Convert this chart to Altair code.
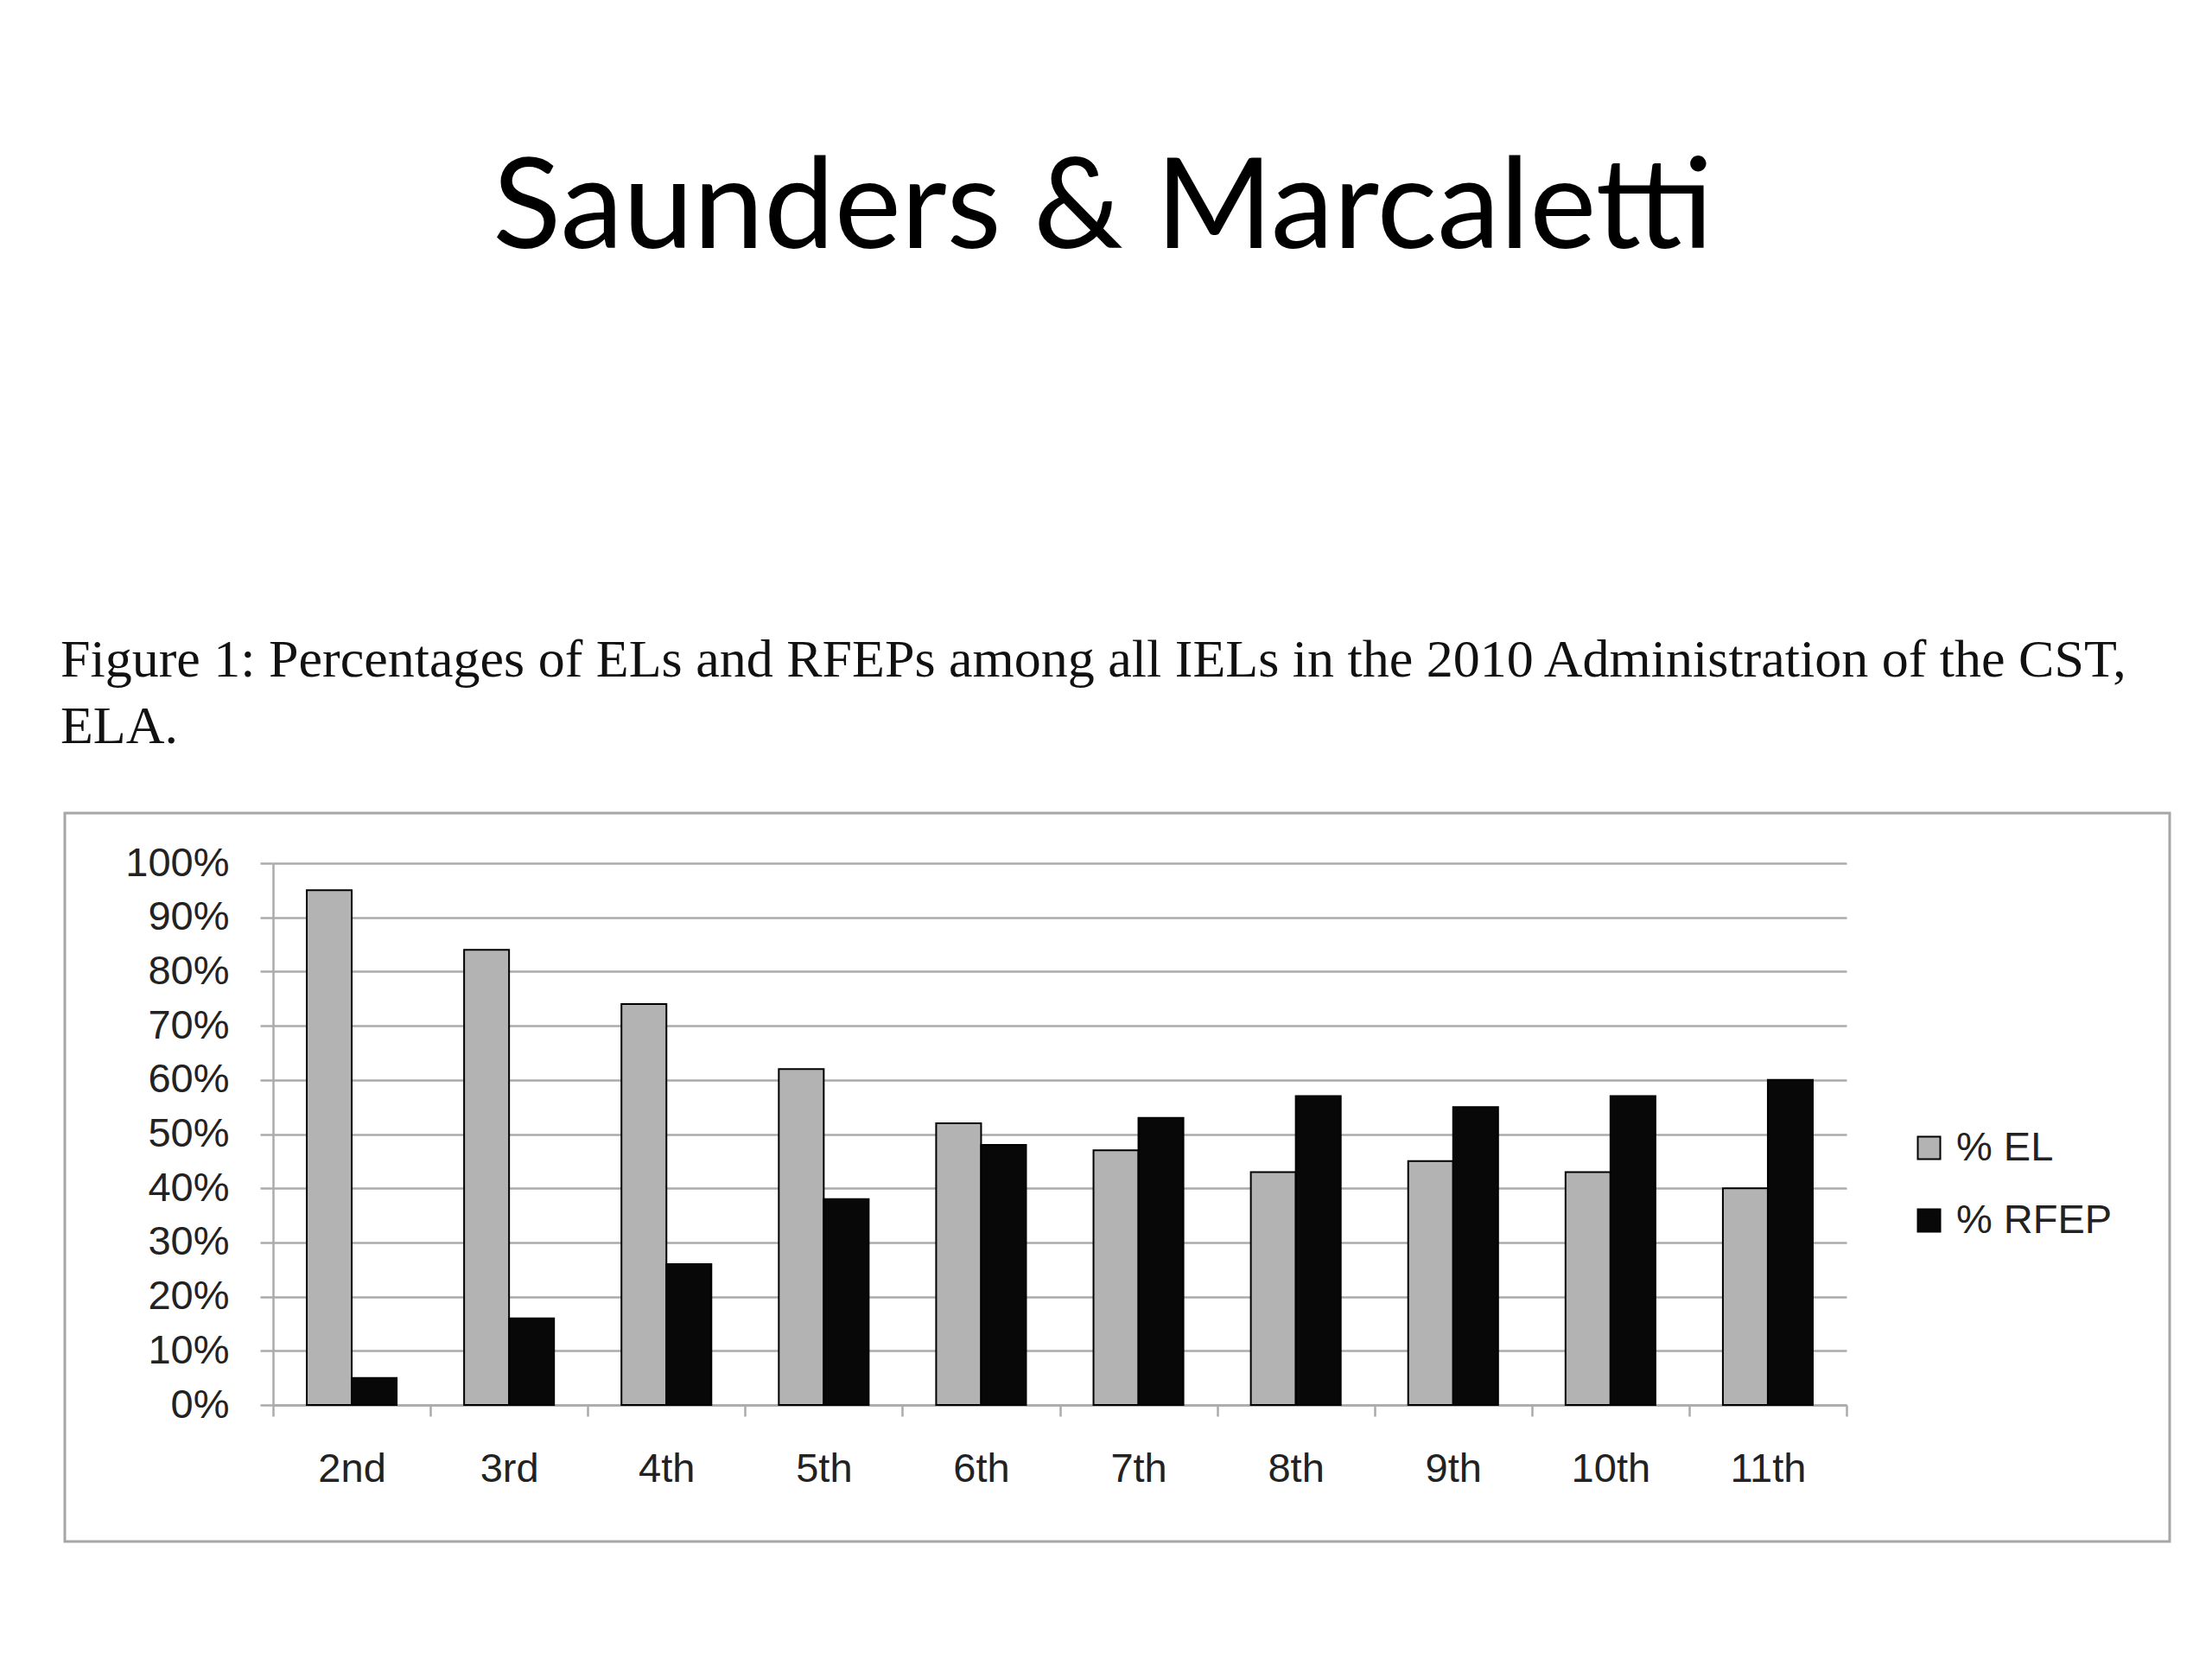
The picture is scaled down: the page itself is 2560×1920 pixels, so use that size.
import altair as alt
import pandas as pd

grades = ["2nd", "3rd", "4th", "5th", "6th", "7th", "8th", "9th", "10th", "11th"]
el_pct = [95, 84, 74, 62, 52, 47, 43, 45, 43, 40]
rfep_pct = [5, 16, 26, 38, 48, 53, 57, 55, 57, 60]
series = ["% EL", "% RFEP"]
series_colors = ["#b3b3b3", "#080808"]
y_ticks = [0, 10, 20, 30, 40, 50, 60, 70, 80, 90, 100]
title_text = "Saunders & Marcaletti"
caption_lines = [
    "Figure 1: Percentages of ELs and RFEPs among all IELs in the 2010 Administration of the CST,",
    "ELA.",
]

rows = []
for g, e, r in zip(grades, el_pct, rfep_pct):
    rows.append({"grade": g, "series": series[0], "value": e})
    rows.append({"grade": g, "series": series[1], "value": r})
df = pd.DataFrame(rows)

W, H = 2436, 843
GRID = "#ababab"
TXT = "#222222"
LBL = 47

bars = alt.Chart(df).mark_bar(stroke="#000000", strokeWidth=2).encode(
    x=alt.X(
        "grade:N",
        sort=grades,
        scale=alt.Scale(range=[241, 2062], paddingInner=0, paddingOuter=0),
        axis=alt.Axis(
            title=None, labelAngle=0, tickBand="extent", offset=-158,
            grid=False, domainColor=GRID, domainWidth=2.5, tickColor=GRID,
            tickWidth=2.5, tickSize=13, labelPadding=38, labelFontSize=LBL,
            labelFont="Liberation Sans", labelColor=TXT,
        ),
    ),
    xOffset=alt.XOffset(
        "series:N", sort=series,
        scale=alt.Scale(paddingInner=0, paddingOuter=0.75),
    ),
    y=alt.Y(
        "value:Q",
        scale=alt.Scale(domain=[0, 100], range=[685, 58], nice=False),
        axis=alt.Axis(
            title=None, values=y_ticks, labelExpr="datum.value + '%'",
            offset=-241, grid=True, gridColor=GRID, gridWidth=2.5,
            domainColor=GRID, domainWidth=2.5, tickColor=GRID, tickWidth=2.5,
            tickSize=15, labelPadding=36, labelFontSize=LBL,
            labelFont="Liberation Sans", labelColor=TXT,
        ),
    ),
    fill=alt.Fill(
        "series:N",
        scale=alt.Scale(domain=series, range=series_colors),
        legend=alt.Legend(
            orient="none", legendX=2134, legendY=364, title=None,
            symbolType="square", symbolSize=676, symbolStrokeColor="#000000",
            symbolStrokeWidth=2, labelFontSize=LBL, labelFont="Liberation Sans",
            labelColor=TXT, labelOffset=8, rowPadding=36, padding=0,
            labelLimit=1000,
        ),
    ),
).properties(
    width=W,
    height=H,
    title=alt.TitleParams(
        caption_lines, anchor="start", font="Liberation Serif", fontSize=62,
        lineHeight=77, fontWeight="normal", color="#111111", offset=68, dx=-5,
    ),
)

chart = alt.vconcat(bars).properties(
    title=alt.TitleParams(
        title_text, anchor="middle", font="Lato", fontSize=146,
        fontWeight="normal", color="#000000", offset=414, dx=-14,
    )
).configure(
    padding={"left": 60, "top": 161, "right": 30, "bottom": 30},
    background="white",
).configure_view(stroke="#a6a6a6", strokeWidth=3)

chart.save("out.html", embed_options={"renderer": "svg", "actions": False})
